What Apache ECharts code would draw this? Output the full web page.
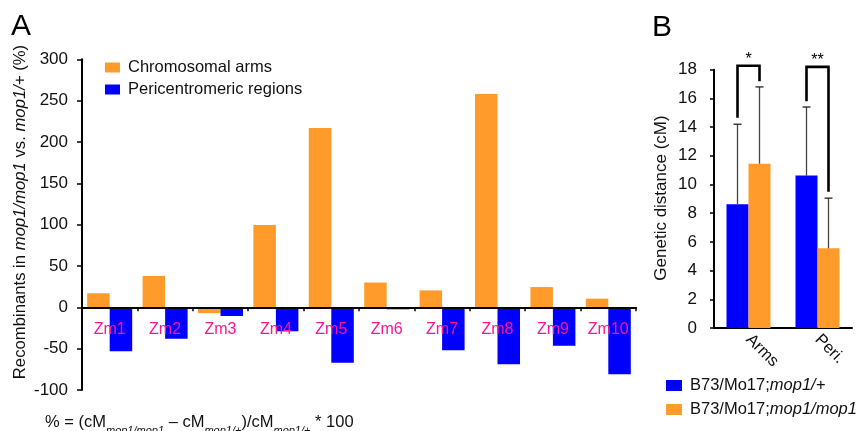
<!DOCTYPE html>
<html>
<head>
<meta charset="utf-8">
<script src="https://cdn.jsdelivr.net/npm/echarts@6/dist/echarts.min.js"></script>
<style>
  html, body { margin: 0; padding: 0; background: #fff; }
  #chart { width: 862px; height: 431px; }
</style>
</head>
<body>
<div id="chart"></div>
<script>
// Panel A: change in recombinants per chromosome (%)
const chromosomes = ['Zm1', 'Zm2', 'Zm3', 'Zm4', 'Zm5', 'Zm6', 'Zm7', 'Zm8', 'Zm9', 'Zm10'];
const armsChange = [17, 38, -7, 99.5, 217, 30, 20.5, 258, 24.5, 10.5];
const periChange = [-53, -38, -10.5, -29, -67, -2.4, -52, -69, -46.5, -81];

// Panel B: genetic distance (cM), mean and standard deviation
const regions = ['Arms', 'Peri.'];
const hetMean = [8.62, 10.62];
const hetSD = [5.58, 4.78];
const homMean = [11.45, 5.55];
const homSD = [5.35, 3.5];

// Significance brackets: top of bracket, lower ends of left/right legs
const bracketTop = [18.28, 18.2];
const bracketLeftEnd = [14.65, 15.8];
const bracketRightEnd = [17.2, 9.5];
const sigMarks = ['*', '**'];

const ORANGE = '#FF9B2A';
const BLUE = '#0000FF';
const FONT = "'Liberation Sans', Arial, sans-serif";
const BAR_B = 22;

// Panel A value range; the category axis is lifted to sit on the zero line
const A_MIN = -100, A_MAX = 300;
const A_TOP = 59.3, A_BOTTOM = 41, CHART_H = 431;

const chart = echarts.init(document.getElementById('chart'), null, { renderer: 'canvas' });

function errorBars(offset) {
  return function (params, api) {
    const idx = api.value(0);
    const base = api.coord([idx, api.value(1)]);
    const top = api.coord([idx, api.value(1) + api.value(2)]);
    const x = base[0] + offset;
    return {
      type: 'group',
      children: [
        { type: 'line', shape: { x1: x, y1: base[1], x2: x, y2: top[1] }, style: { stroke: '#444', lineWidth: 1.3 } },
        { type: 'line', shape: { x1: x - 4, y1: top[1], x2: x + 4, y2: top[1] }, style: { stroke: '#222', lineWidth: 1.3 } }
      ]
    };
  };
}

function brackets(params, api) {
  const idx = api.value(0);
  const topPt = api.coord([idx, api.value(1)]);
  const leftPt = api.coord([idx, api.value(2)]);
  const rightPt = api.coord([idx, api.value(3)]);
  const xl = topPt[0] - BAR_B / 2;
  const xr = topPt[0] + BAR_B / 2;
  return {
    type: 'group',
    children: [
      { type: 'polyline', shape: { points: [[xl, leftPt[1]], [xl, topPt[1]], [xr, topPt[1]], [xr, rightPt[1]]] },
        style: { stroke: '#000', lineWidth: 2.6, fill: null } },
      { type: 'text', style: { text: sigMarks[params.dataIndex], x: topPt[0], y: topPt[1] + 2,
        align: 'center', verticalAlign: 'bottom', font: '16px ' + FONT, fill: '#000' } }
    ]
  };
}

const plotHeightA = CHART_H - A_TOP - A_BOTTOM;
const zeroOffsetA = plotHeightA * (0 - A_MIN) / (A_MAX - A_MIN);

const option = {
  animation: false,
  backgroundColor: '#fff',
  textStyle: { fontFamily: FONT },
  grid: [
    { left: 82, right: 226, top: A_TOP, bottom: A_BOTTOM },
    { left: 714, right: 10, top: 69.7, bottom: 103 }
  ],
  legend: [
    {
      data: ['Chromosomal arms', 'Pericentromeric regions'],
      orient: 'vertical', left: 105, top: 59, padding: 0,
      itemWidth: 15, itemHeight: 10, itemGap: 5,
      icon: 'rect',
      textStyle: { fontSize: 16.5, color: '#111', fontFamily: FONT, padding: [0, 0, 0, 3] }
    },
    {
      data: ['B73/Mo17;mop1/+', 'B73/Mo17;mop1/mop1'],
      orient: 'vertical', left: 666, top: 377, padding: 0,
      itemWidth: 16, itemHeight: 11, itemGap: 7,
      icon: 'rect',
      formatter: function (name) {
        const parts = name.split(';');
        return '{n|' + parts[0] + ';}{i|' + parts[1] + '}';
      },
      textStyle: {
        fontSize: 16.5, color: '#111', fontFamily: FONT, padding: [0, 0, 0, 3],
        rich: {
          n: { fontSize: 16.5, fontFamily: FONT, color: '#111' },
          i: { fontSize: 16.5, fontFamily: FONT, fontStyle: 'italic', color: '#111' }
        }
      }
    }
  ],
  xAxis: [
    {
      type: 'category', gridIndex: 0, data: chromosomes, z: 10,
      offset: -zeroOffsetA,
      axisLine: { onZero: false, lineStyle: { color: '#000', width: 2 } },
      axisTick: { show: true, length: 4, lineStyle: { color: '#000', width: 1.5 } },
      axisLabel: { color: '#FF1493', fontSize: 16, margin: 14, fontFamily: FONT, interval: 0 },
      splitLine: { show: false }
    },
    {
      type: 'category', gridIndex: 1, data: regions,
      axisLine: { lineStyle: { color: '#000', width: 2 } },
      axisTick: { show: false },
      axisLabel: { color: '#111', fontSize: 16.5, margin: 9, rotate: -45, fontFamily: FONT, interval: 0 },
      splitLine: { show: false }
    }
  ],
  yAxis: [
    {
      type: 'value', gridIndex: 0, min: A_MIN, max: A_MAX, interval: 50,
      axisLine: { show: true, lineStyle: { color: '#000', width: 2 } },
      axisTick: { show: true, length: 5, lineStyle: { color: '#000', width: 1.5 } },
      axisLabel: { color: '#111', fontSize: 17, margin: 14, fontFamily: FONT },
      splitLine: { show: false }
    },
    {
      type: 'value', gridIndex: 1, min: 0, max: 18, interval: 2,
      axisLine: { show: true, lineStyle: { color: '#000', width: 2 } },
      axisTick: { show: true, length: 4, lineStyle: { color: '#000', width: 1.5 } },
      axisLabel: { color: '#111', fontSize: 17, margin: 17, fontFamily: FONT },
      splitLine: { show: false }
    }
  ],
  series: [
    {
      name: 'Chromosomal arms', type: 'bar', xAxisIndex: 0, yAxisIndex: 0,
      data: armsChange, barWidth: 22.5, barGap: '0%',
      itemStyle: { color: ORANGE }
    },
    {
      name: 'Pericentromeric regions', type: 'bar', xAxisIndex: 0, yAxisIndex: 0,
      data: periChange, barWidth: 22.5, barGap: '0%',
      itemStyle: { color: BLUE }
    },
    {
      name: 'B73/Mo17;mop1/+', type: 'bar', xAxisIndex: 1, yAxisIndex: 1,
      data: hetMean, barWidth: BAR_B, barGap: '0%',
      itemStyle: { color: BLUE }
    },
    {
      name: 'B73/Mo17;mop1/mop1', type: 'bar', xAxisIndex: 1, yAxisIndex: 1,
      data: homMean, barWidth: BAR_B, barGap: '0%',
      itemStyle: { color: ORANGE }
    },
    {
      type: 'custom', xAxisIndex: 1, yAxisIndex: 1, z: 5,
      renderItem: errorBars(-BAR_B / 2),
      data: hetMean.map((m, i) => [i, m, hetSD[i]])
    },
    {
      type: 'custom', xAxisIndex: 1, yAxisIndex: 1, z: 5,
      renderItem: errorBars(BAR_B / 2),
      data: homMean.map((m, i) => [i, m, homSD[i]])
    },
    {
      type: 'custom', xAxisIndex: 1, yAxisIndex: 1, z: 6,
      renderItem: brackets,
      data: bracketTop.map((t, i) => [i, t, bracketLeftEnd[i], bracketRightEnd[i]])
    }
  ],
  graphic: [
    { type: 'text', left: 11, top: 12, style: { text: 'A', font: '30px ' + FONT, fill: '#000' } },
    { type: 'text', left: 652, top: 13, style: { text: 'B', font: '30px ' + FONT, fill: '#000' } },
    {
      type: 'text', x: 20, y: 212, rotation: Math.PI / 2,
      style: {
        text: '{a|Recombinants in }{i|mop1/mop1}{a| vs. }{i|mop1/+}{a| (%)}',
        align: 'center', verticalAlign: 'middle',
        rich: {
          a: { fontSize: 16.7, fontFamily: FONT, fill: '#111' },
          i: { fontSize: 16.7, fontFamily: FONT, fontStyle: 'italic', fill: '#111' }
        }
      }
    },
    {
      type: 'text', x: 661, y: 198, rotation: Math.PI / 2,
      style: {
        text: 'Genetic distance (cM)', align: 'center', verticalAlign: 'middle',
        font: '17px ' + FONT, fill: '#111'
      }
    },
    {
      type: 'text', x: 45, y: 425,
      style: {
        text: '{a|% = (cM}{s|mop1/mop1}{a| \u2013 cM}{s|mop1/+}{a|)/cM}{s|mop1/+}{a| * 100}',
        align: 'left', verticalAlign: 'middle',
        rich: {
          a: { fontSize: 16.5, fontFamily: FONT, fill: '#111', lineHeight: 22, verticalAlign: 'top' },
          s: { fontSize: 11, fontFamily: FONT, fontStyle: 'italic', fill: '#111', lineHeight: 13, verticalAlign: 'bottom' }
        }
      }
    }
  ]
};

chart.setOption(option);
</script>
</body>
</html>
